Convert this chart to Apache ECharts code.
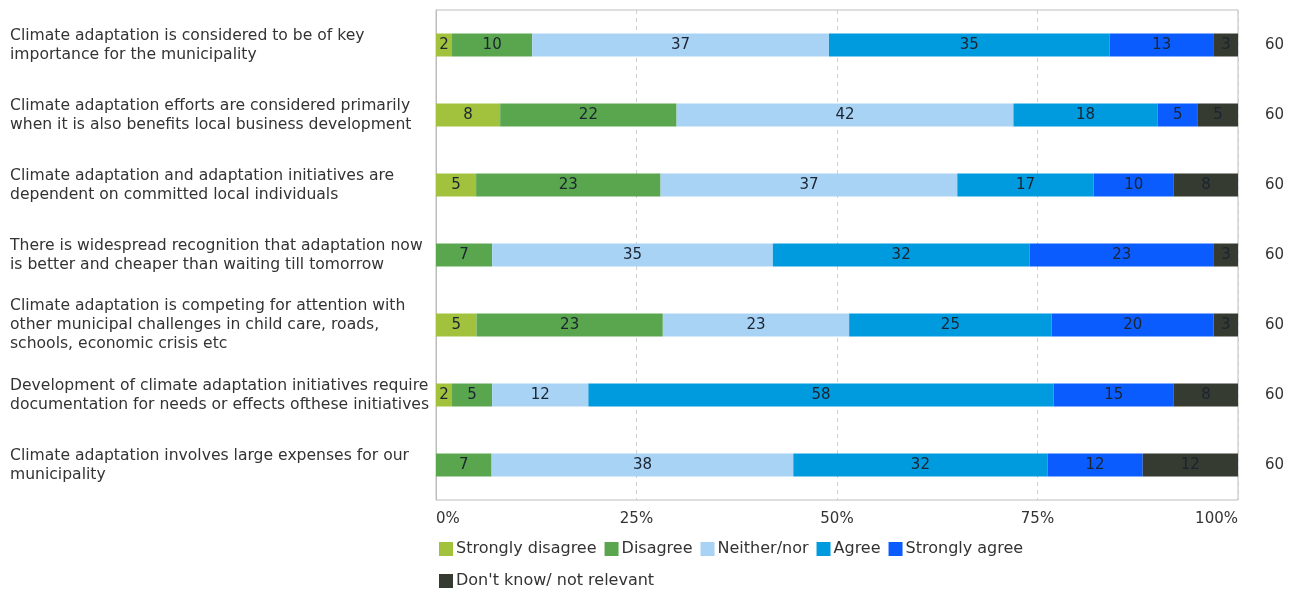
<!DOCTYPE html>
<html>
<head>
<meta charset="utf-8">
<script src="https://cdn.jsdelivr.net/npm/echarts@6/dist/echarts.min.js"></script>
<style>
  html, body { margin: 0; padding: 0; background: #fff; }
  #chart { width: 1295px; height: 590px; }
</style>
</head>
<body>
<div id="chart"></div>
<script>
// Survey statements (top to bottom)
const statements = [
  'Climate adaptation is considered to be of key\nimportance for the municipality',
  'Climate adaptation efforts are considered primarily\nwhen it is also benefits local business development',
  'Climate adaptation and adaptation initiatives are\ndependent on committed local individuals',
  'There is widespread recognition that adaptation now\nis better and cheaper than waiting till tomorrow',
  'Climate adaptation is competing for attention with\nother municipal challenges in child care, roads,\nschools, economic crisis etc',
  'Development of climate adaptation initiatives require\ndocumentation for needs or effects ofthese initiatives',
  'Climate adaptation involves large expenses for our\nmunicipality'
];

// Response shares in percent, one entry per statement
const stronglyDisagree = [2, 8, 5, 0, 5, 2, 0];
const disagree         = [10, 22, 23, 7, 23, 5, 7];
const neitherNor       = [37, 42, 37, 35, 23, 12, 38];
const agree            = [35, 18, 17, 32, 25, 58, 32];
const stronglyAgree    = [13, 5, 10, 23, 20, 15, 12];
const dontKnow         = [3, 5, 8, 3, 3, 8, 12];

// Number of respondents per statement
const respondents = [60, 60, 60, 60, 60, 60, 60];

const tickLabels = ['0%', '25%', '50%', '75%', '100%'];

const seriesDefs = [
  { name: 'Strongly disagree',        values: stronglyDisagree, color: '#a2c13c' },
  { name: 'Disagree',                 values: disagree,         color: '#5aa64e' },
  { name: 'Neither/nor',              values: neitherNor,       color: '#a9d3f5' },
  { name: 'Agree',                    values: agree,            color: '#009ade' },
  { name: 'Strongly agree',           values: stronglyAgree,    color: '#0a5cff' },
  { name: "Don't know/ not relevant", values: dontKnow,         color: '#363b32' }
];

// Row totals, so every bar fills the full 0-100% width
const rowTotals = statements.map((_, i) =>
  seriesDefs.reduce((s, d) => s + d.values[i], 0));

const FONT = 'DejaVu Sans';

const series = seriesDefs.map(d => ({
  name: d.name,
  type: 'bar',
  stack: 'total',
  barWidth: 23,
  itemStyle: { color: d.color },
  data: d.values.map((v, i) => ({ value: v / rowTotals[i] * 100, raw: v })),
  label: {
    show: true,
    position: 'inside',
    color: '#1b2430',
    fontFamily: FONT,
    fontSize: 15,
    formatter: p => (p.data.raw ? String(p.data.raw) : '')
  }
}));

const legendCommon = {
  left: 434,
  itemWidth: 14,
  itemHeight: 14,
  itemGap: 8,
  icon: 'rect',
  textStyle: { fontFamily: FONT, fontSize: 16, color: '#333', padding: [0, 0, 0, -2] }
};

const chart = echarts.init(document.getElementById('chart'));
chart.setOption({
  animation: false,
  grid: { left: 436, right: 57, top: 10, bottom: 90, containLabel: false,
          show: true, borderColor: '#bdbdbd', borderWidth: 1 },
  legend: [
    Object.assign({ top: 536, data: seriesDefs.slice(0, 5).map(d => d.name) }, legendCommon),
    Object.assign({ top: 568, data: seriesDefs.slice(5).map(d => d.name) }, legendCommon)
  ],
  xAxis: {
    type: 'value',
    min: 0,
    max: 100,
    interval: 25,
    axisLine: { show: false },
    axisTick: { show: false },
    splitLine: { show: true, lineStyle: { color: '#cfcfcf', type: [4, 4] } },
    axisLabel: {
      fontFamily: FONT, fontSize: 15, color: '#333', margin: 12,
      alignMinLabel: 'left', alignMaxLabel: 'right',
      formatter: v => tickLabels[Math.round(v / 25)]
    }
  },
  yAxis: [
    {
      type: 'category',
      inverse: true,
      data: statements,
      axisLine: { show: true, lineStyle: { color: '#bdbdbd' } },
      axisTick: { show: false },
      axisLabel: {
        align: 'left', margin: 426,
        fontFamily: FONT, fontSize: 15.6, lineHeight: 19, color: '#333',
        padding: [2, 0, 0, 0]
      }
    },
    {
      type: 'category',
      inverse: true,
      position: 'right',
      data: respondents.map(String),
      axisLine: { show: false },
      axisTick: { show: false },
      axisLabel: { margin: 27, fontFamily: FONT, fontSize: 15, color: '#333' }
    }
  ],
  series: series
});
</script>
</body>
</html>
